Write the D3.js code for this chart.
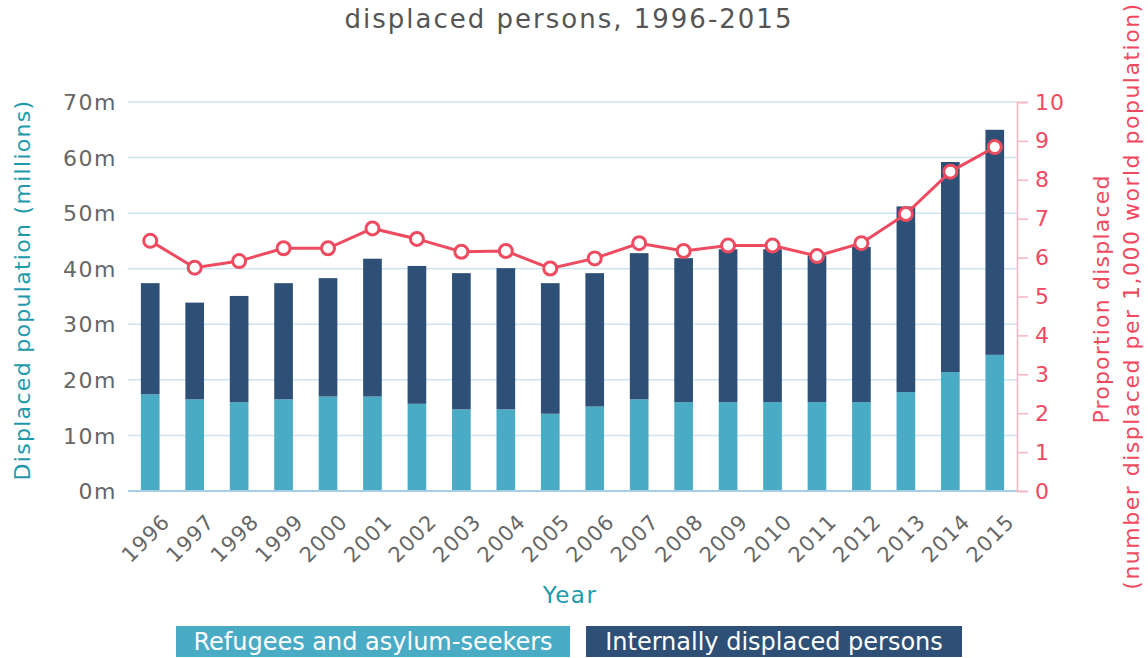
<!DOCTYPE html>
<html>
<head>
<meta charset="utf-8">
<script src="https://cdn.jsdelivr.net/npm/d3@7"></script>
<style>
  html, body { margin: 0; padding: 0; background: #fff; }
  svg { display: block; }
  text { font-family: "DejaVu Sans", sans-serif; }
</style>
</head>
<body>
<svg id="chart" width="1148" height="658"></svg>
<script>
const years = ["1996","1997","1998","1999","2000","2001","2002","2003","2004","2005",
               "2006","2007","2008","2009","2010","2011","2012","2013","2014","2015"];
// millions
const refugees = [17.4,16.5,16.0,16.5,17.0,17.0,15.7,14.7,14.7,13.9,
                  15.2,16.5,16.0,16.0,16.0,16.0,16.0,17.8,21.4,24.5];
const totals   = [37.4,33.9,35.1,37.4,38.3,41.8,40.5,39.2,40.1,37.4,
                  39.2,42.8,41.9,43.5,43.5,42.4,43.9,51.2,59.2,65.0];
const idps = totals.map((t, i) => +(t - refugees[i]).toFixed(1));
// per 1,000 world population
const proportion = [6.43,5.74,5.91,6.24,6.24,6.75,6.48,6.15,6.17,5.72,
                    5.98,6.37,6.17,6.31,6.31,6.04,6.37,7.12,8.21,8.84];
const leftTicks = [0,10,20,30,40,50,60,70];
const rightTicks = [0,1,2,3,4,5,6,7,8,9,10];
const seriesNames = ["Refugees and asylum-seekers", "Internally displaced persons"];

const C_LIGHT = "#4aabc5", C_DARK = "#2e4f76", C_RED = "#ee4a60",
      C_TEAL = "#1f9aab", C_GREY = "#666666", C_GRID = "#cde3f2";

const svg = d3.select("#chart");
const L = 128, R = 1017, T = 102, B = 491;

const x = d3.scaleBand().domain(years).range([L, R]).paddingInner(0.58).paddingOuter(0.29);
const yL = d3.scaleLinear().domain([0, 70]).range([B, T]);
const yR = d3.scaleLinear().domain([0, 10]).range([B, T]);

// Title (first line cropped off in the reference)
svg.append("text").attr("x", 569).attr("y", 28).attr("text-anchor", "middle")
  .attr("font-size", 26).attr("letter-spacing", 2).attr("fill", "#555")
  .text("displaced persons, 1996-2015");

// Grid lines
svg.append("g").selectAll("line").data(leftTicks.filter(d => d > 0)).join("line")
  .attr("x1", L).attr("x2", R).attr("y1", d => yL(d)).attr("y2", d => yL(d))
  .attr("stroke", C_GRID).attr("stroke-width", 1.5);

// Left axis
const gL = svg.append("g").attr("transform", `translate(${L},0)`)
  .call(d3.axisLeft(yL).tickValues(leftTicks).tickFormat(d => d + "m").tickSize(0).tickPadding(11));
gL.select(".domain").remove();
gL.selectAll("text").attr("font-size", 22).attr("letter-spacing", 1.5).attr("fill", C_GREY)
  .attr("font-family", "DejaVu Sans, sans-serif").attr("dy", "0.35em");

// Stacked bars
const stackData = years.map((y, i) => ({year: y, ref: refugees[i], idp: idps[i]}));
const stack = d3.stack().keys(["ref", "idp"])(stackData);
const colors = [C_LIGHT, C_DARK];
svg.append("g").selectAll("g").data(stack).join("g").attr("fill", (d, i) => colors[i])
  .selectAll("rect").data(d => d).join("rect")
  .attr("x", d => x(d.data.year)).attr("width", x.bandwidth())
  .attr("y", d => yL(d[1])).attr("height", d => yL(d[0]) - yL(d[1]));

// Bottom axis line
svg.append("line").attr("x1", L).attr("x2", R).attr("y1", B).attr("y2", B)
  .attr("stroke", "#a6cfe6").attr("stroke-width", 2);

// X tick labels
const gX = svg.append("g").attr("transform", `translate(0,${B})`)
  .call(d3.axisBottom(x).tickSize(0));
gX.select(".domain").remove();
gX.selectAll("text")
  .attr("font-size", 21).attr("letter-spacing", 1).attr("fill", C_GREY).attr("text-anchor", "end")
  .attr("y", 0).attr("dy", 0)
  .attr("transform", "translate(21,32) rotate(-45)");

// Right axis
const gR = svg.append("g").attr("transform", `translate(${R},0)`)
  .call(d3.axisRight(yR).tickValues(rightTicks).tickSize(11).tickPadding(7));
gR.select(".domain").attr("stroke", "#f6b5c0").attr("stroke-width", 1.5);
gR.selectAll(".tick line").attr("stroke", "#f6b5c0").attr("stroke-width", 1.5);
gR.selectAll("text").attr("font-size", 22).attr("letter-spacing", 1).attr("fill", C_RED)
  .attr("font-family", "DejaVu Sans, sans-serif");

// Line + markers
const line = d3.line().x((d, i) => x(years[i]) + x.bandwidth() / 2).y(d => yR(d));
svg.append("path").datum(proportion).attr("d", line)
  .attr("fill", "none").attr("stroke", C_RED).attr("stroke-width", 3);
svg.append("g").selectAll("circle").data(proportion).join("circle")
  .attr("cx", (d, i) => x(years[i]) + x.bandwidth() / 2).attr("cy", d => yR(d))
  .attr("r", 6.5).attr("fill", "#fff").attr("stroke", C_RED).attr("stroke-width", 3);

// Axis titles
svg.append("text").attr("transform", "translate(30,290) rotate(-90)")
  .attr("text-anchor", "middle").attr("font-size", 22).attr("letter-spacing", 1.3).attr("fill", C_TEAL)
  .text("Displaced population (millions)");
svg.append("text").attr("transform", "translate(1109,299) rotate(-90)")
  .attr("text-anchor", "middle").attr("font-size", 22).attr("letter-spacing", 1.2).attr("fill", C_RED)
  .text("Proportion displaced");
svg.append("text").attr("transform", "translate(1139,296) rotate(-90)")
  .attr("text-anchor", "middle").attr("font-size", 22).attr("letter-spacing", 1.5).attr("fill", C_RED)
  .text("(number displaced per 1,000 world population)");
svg.append("text").attr("x", 570).attr("y", 603).attr("text-anchor", "middle")
  .attr("font-size", 23).attr("letter-spacing", 1.5).attr("fill", C_TEAL).text("Year");

// Legend
const legendBoxes = [{x0: 176, x1: 570}, {x0: 586, x1: 962}];
const lg = svg.append("g").selectAll("g").data(seriesNames).join("g");
lg.append("rect").attr("x", (d, i) => legendBoxes[i].x0).attr("y", 626)
  .attr("width", (d, i) => legendBoxes[i].x1 - legendBoxes[i].x0).attr("height", 31)
  .attr("fill", (d, i) => colors[i]);
lg.append("text").attr("x", (d, i) => (legendBoxes[i].x0 + legendBoxes[i].x1) / 2)
  .attr("y", 650).attr("text-anchor", "middle").attr("font-size", 24)
  .attr("font-family", "Open Sans, sans-serif").attr("fill", "#fff").text(d => d);
</script>
</body>
</html>
